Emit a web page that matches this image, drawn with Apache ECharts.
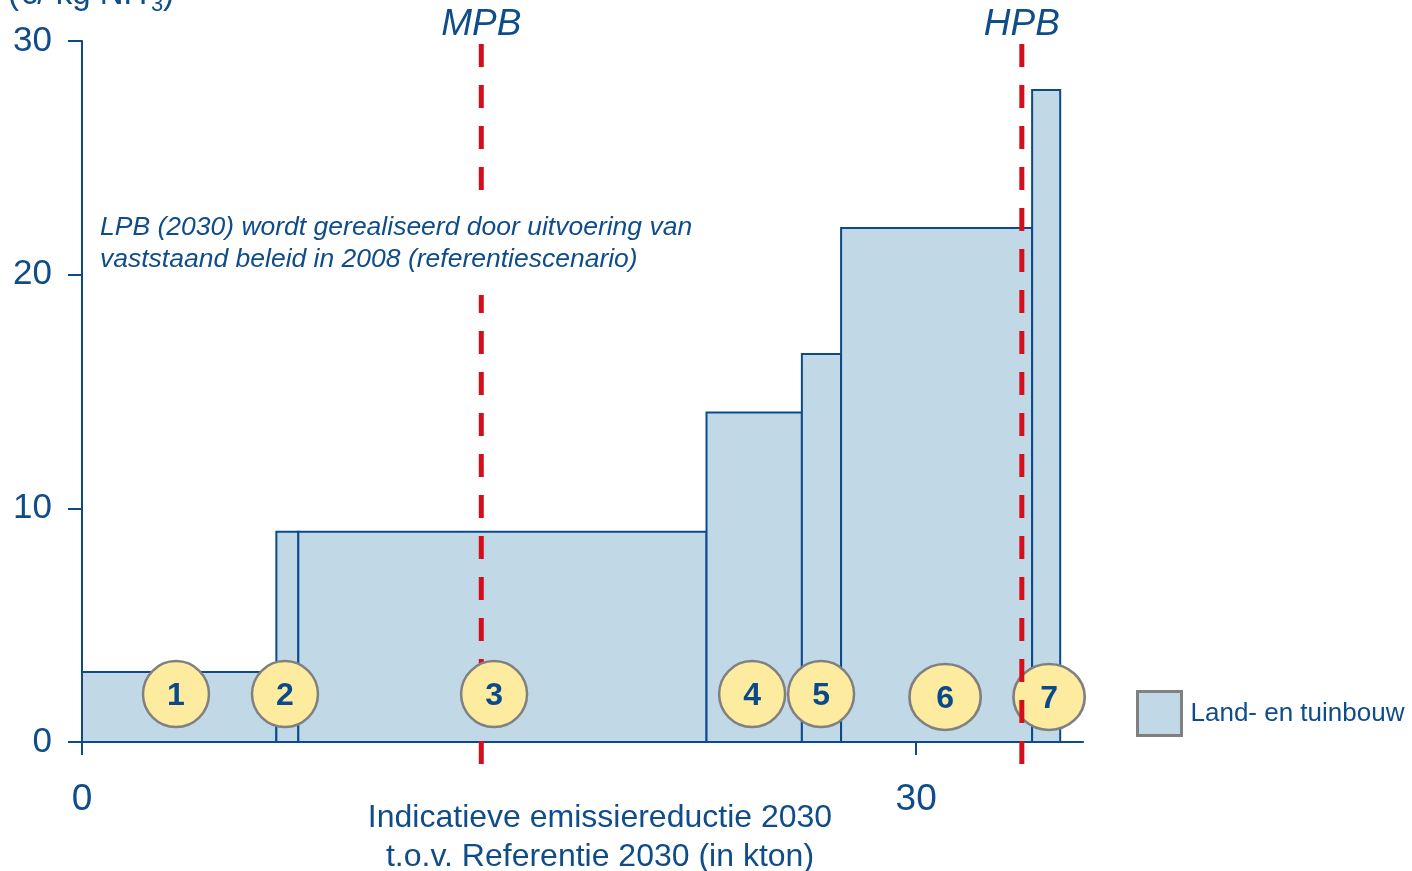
<!DOCTYPE html>
<html>
<head>
<meta charset="utf-8">
<script src="https://cdn.jsdelivr.net/npm/echarts@6/dist/echarts.min.js"></script>
<style>
  html, body { margin: 0; background: #fff; }
  #chart { width: 1412px; height: 871px; }
</style>
</head>
<body>
<div id="chart"></div>
<script>
// kosten per maatregel (breedte = reductie in kton, hoogte = kosten)
const barStart = [0, 6.99, 7.78, 22.46, 25.89, 27.30, 34.17]
const barEnd = [6.99, 7.78, 22.46, 25.89, 27.30, 34.17, 35.18]
const barCost = [3.0, 9.0, 9.0, 14.1, 16.6, 22.0, 27.9]
const markerLabels = ['1', '2', '3', '4', '5', '6', '7']
const markerX = [3.38, 7.30, 14.82, 24.10, 26.58, 31.04, 34.78]
const markerY = [2.05, 2.05, 2.05, 2.05, 2.05, 1.93, 1.93]
const limitNames = ['MPB', 'HPB']
const limitX = [14.36, 33.80]
const xTicks = [0, 30]
const seriesName = 'Land- en tuinbouw'

const blue = '#0f4c8a'
const font = '"Liberation Sans", Arial, sans-serif'

const chart = echarts.init(document.getElementById('chart'))
const option = {
  backgroundColor: '#fff',
  animation: false,
  grid: { left: 82, top: 41, right: 329, bottom: 129 },
  legend: {
    left: 1131,
    top: 685,
    icon: 'rect',
    itemWidth: 44,
    itemHeight: 44,
    selectedMode: false,
    data: [{
      name: seriesName,
      itemStyle: { color: '#c1d8e7', borderColor: '#808080', borderWidth: 3 },
    }],
    textStyle: { fontSize: 26, color: blue, fontFamily: font, padding: [0, 0, 0, 4] },
  },
  xAxis: {
    type: 'value',
    min: 0,
    max: 36,
    splitLine: { show: false },
    axisLine: { lineStyle: { color: '#0d4a8c', width: 2 } },
    axisTick: { customValues: xTicks, length: 13, lineStyle: { color: '#0d4a8c', width: 2 } },
    axisLabel: { customValues: xTicks, margin: 39, fontSize: 37, color: blue, fontFamily: font },
  },
  yAxis: {
    type: 'value',
    min: 0,
    max: 30,
    interval: 10,
    splitLine: { show: false },
    axisLine: { show: true, lineStyle: { color: '#0d4a8c', width: 2 } },
    axisTick: { show: true, length: 14, lineStyle: { color: '#0d4a8c', width: 2 } },
    axisLabel: { margin: 30, fontSize: 35, color: blue, fontFamily: font },
  },
  graphic: [
    { type: 'text', left: 8, top: -22, style: { text: '(€/ kg NH', font: '33px ' + font, fill: blue } },
    { type: 'text', left: 151, top: -6, style: { text: '3', font: '22px ' + font, fill: blue } },
    { type: 'text', left: 163, top: -22, style: { text: ')', font: '33px ' + font, fill: blue } },
    {
      type: 'text', left: 96, top: 194, z: 10,
      style: {
        text: 'LPB (2030) wordt gerealiseerd door uitvoering van\nvaststaand beleid in 2008 (referentiescenario)',
        font: 'italic 26.5px ' + font, lineHeight: 32, fill: blue,
        backgroundColor: '#fff', padding: [18, 4, 19, 4],
      },
    },
    {
      type: 'text', x: 600, y: 799,
      style: {
        text: 'Indicatieve emissiereductie 2030\nt.o.v. Referentie 2030 (in kton)',
        font: '32px ' + font, lineHeight: 39, fill: blue, align: 'center', verticalAlign: 'top',
      },
    },
  ],
  series: [
    {
      name: seriesName,
      type: 'custom',
      itemStyle: { color: '#c1d8e7' },
      encode: { x: [0, 1], y: 2 },
      data: barStart.map((s, i) => [s, barEnd[i], barCost[i]]),
      renderItem: (params, api) => {
        const p0 = api.coord([api.value(0), 0])
        const p1 = api.coord([api.value(1), api.value(2)])
        return {
          type: 'rect',
          z2: 0,
          shape: { x: p0[0], y: p1[1], width: p1[0] - p0[0], height: p0[1] - p1[1] },
          style: { fill: '#c1d8e7', stroke: '#0d4a8c', lineWidth: 2 },
        }
      },
    },
    {
      type: 'custom',
      clip: false,
      data: limitX.map((x) => [x, 0]),
      renderItem: (params, api) => {
        const top = api.coord([api.value(0), 29.87])
        const bot = api.coord([api.value(0), -1.46])
        return {
          type: 'group',
          children: [
            {
              type: 'line',
              z2: 10,
              shape: { x1: top[0], y1: top[1], x2: bot[0], y2: bot[1] },
              style: { stroke: '#d40f1c', lineWidth: 5, lineDash: [23, 18] },
            },
            {
              type: 'text',
              z2: 10,
              style: {
                text: limitNames[params.dataIndex], x: top[0], y: top[1] - 19,
                align: 'center', verticalAlign: 'middle',
                font: 'italic 37px ' + font, fill: blue,
              },
            },
          ],
        }
      },
    },
    {
      type: 'custom',
      clip: false,
      data: markerX.map((x, i) => [x, markerY[i]]),
      renderItem: (params, api) => {
        const c = api.coord([api.value(0), api.value(1)])
        // cirkel 7 ligt onder de HPB-lijn
        const z = params.dataIndex === 6 ? 5 : 20
        const wide = params.dataIndex >= 5 ? 1.08 : 1
        return {
          type: 'group',
          children: [
            {
              type: 'circle',
              z2: z,
              x: c[0],
              y: c[1],
              scaleX: wide,
              shape: { cx: 0, cy: 0, r: 33 },
              style: { fill: '#fdeba0', stroke: '#808080', lineWidth: 2.5, strokeNoScale: true },
            },
            {
              type: 'text',
              z2: z + 1,
              style: {
                text: markerLabels[params.dataIndex], x: c[0], y: c[1] + 2,
                align: 'center', verticalAlign: 'middle',
                font: 'bold 32px ' + font, fill: '#0b4a8a',
              },
            },
          ],
        }
      },
    },
  ],
}
chart.setOption(option)
</script>
</body>
</html>
